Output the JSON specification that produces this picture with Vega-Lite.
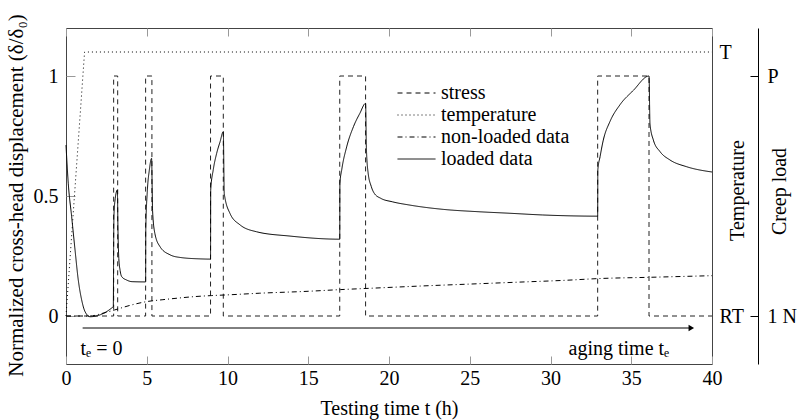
{
  "$schema": "https://vega.github.io/schema/vega-lite/v6.json",
  "width": 646,
  "height": 336,
  "autosize": "none",
  "padding": {"left": 66, "top": 28, "right": 86, "bottom": 56},
  "config": {
    "font": "Liberation Serif",
    "view": {"stroke": "#444", "strokeWidth": 1},
    "axis": {
      "labelFont": "Liberation Serif", "titleFont": "Liberation Serif",
      "labelFontSize": 20, "titleFontSize": 20, "titleFontWeight": "normal",
      "labelColor": "#000", "titleColor": "#000", "tickColor": "#999",
      "grid": false, "domain": false, "labelFlush": false, "labelOverlap": false
    },
    "legend": {"labelFont": "Liberation Serif", "labelFontSize": 20}
  },
  "datasets": {
    "lines": [
      {"s": "stress", "t": 0, "v": 0}, {"s": "stress", "t": 2.95, "v": 0}, {"s": "stress", "t": 2.95, "v": 1}, {"s": "stress", "t": 3.2, "v": 1}, {"s": "stress", "t": 3.2, "v": 0},
      {"s": "stress", "t": 4.93, "v": 0}, {"s": "stress", "t": 4.93, "v": 1}, {"s": "stress", "t": 5.32, "v": 1}, {"s": "stress", "t": 5.32, "v": 0},
      {"s": "stress", "t": 8.95, "v": 0}, {"s": "stress", "t": 8.95, "v": 1}, {"s": "stress", "t": 9.74, "v": 1}, {"s": "stress", "t": 9.74, "v": 0},
      {"s": "stress", "t": 16.95, "v": 0}, {"s": "stress", "t": 16.95, "v": 1}, {"s": "stress", "t": 18.55, "v": 1}, {"s": "stress", "t": 18.55, "v": 0},
      {"s": "stress", "t": 32.92, "v": 0}, {"s": "stress", "t": 32.92, "v": 1}, {"s": "stress", "t": 36.1, "v": 1}, {"s": "stress", "t": 36.1, "v": 0},
      {"s": "stress", "t": 40, "v": 0},
      {"s": "temperature", "t": 0, "v": 0}, {"s": "temperature", "t": 1.15, "v": 1.1}, {"s": "temperature", "t": 40, "v": 1.1},
      {"s": "non-loaded data", "t": 0, "v": 0}, {"s": "non-loaded data", "t": 1.5, "v": 0}, {"s": "non-loaded data", "t": 2.2, "v": 0.01},
      {"s": "non-loaded data", "t": 3, "v": 0.025}, {"s": "non-loaded data", "t": 4, "v": 0.045}, {"s": "non-loaded data", "t": 5, "v": 0.06},
      {"s": "non-loaded data", "t": 6, "v": 0.068}, {"s": "non-loaded data", "t": 7, "v": 0.075}, {"s": "non-loaded data", "t": 8, "v": 0.081},
      {"s": "non-loaded data", "t": 9, "v": 0.085}, {"s": "non-loaded data", "t": 10, "v": 0.088}, {"s": "non-loaded data", "t": 12, "v": 0.095},
      {"s": "non-loaded data", "t": 15, "v": 0.103}, {"s": "non-loaded data", "t": 17, "v": 0.11}, {"s": "non-loaded data", "t": 19, "v": 0.116},
      {"s": "non-loaded data", "t": 22, "v": 0.125}, {"s": "non-loaded data", "t": 25, "v": 0.133}, {"s": "non-loaded data", "t": 28, "v": 0.141},
      {"s": "non-loaded data", "t": 31, "v": 0.149}, {"s": "non-loaded data", "t": 33, "v": 0.156}, {"s": "non-loaded data", "t": 36, "v": 0.161},
      {"s": "non-loaded data", "t": 40, "v": 0.168},
      {"s": "loaded data", "t": 0, "v": 0.712}, {"s": "loaded data", "t": 0.14, "v": 0.553}, {"s": "loaded data", "t": 0.35, "v": 0.414},
      {"s": "loaded data", "t": 0.56, "v": 0.275}, {"s": "loaded data", "t": 0.76, "v": 0.15}, {"s": "loaded data", "t": 0.97, "v": 0.067},
      {"s": "loaded data", "t": 1.18, "v": 0.018}, {"s": "loaded data", "t": 1.49, "v": -0.003}, {"s": "loaded data", "t": 2.93, "v": 0.039},
      {"s": "loaded data", "t": 2.95, "v": 0.3}, {"s": "loaded data", "t": 2.97, "v": 0.42}, {"s": "loaded data", "t": 3.05, "v": 0.49},
      {"s": "loaded data", "t": 3.18, "v": 0.525}, {"s": "loaded data", "t": 3.22, "v": 0.35}, {"s": "loaded data", "t": 3.27, "v": 0.24},
      {"s": "loaded data", "t": 3.35, "v": 0.19}, {"s": "loaded data", "t": 3.45, "v": 0.164}, {"s": "loaded data", "t": 3.75, "v": 0.15},
      {"s": "loaded data", "t": 4.1, "v": 0.143}, {"s": "loaded data", "t": 4.93, "v": 0.142},
      {"s": "loaded data", "t": 4.94, "v": 0.36}, {"s": "loaded data", "t": 5.04, "v": 0.525}, {"s": "loaded data", "t": 5.16, "v": 0.608},
      {"s": "loaded data", "t": 5.3, "v": 0.657}, {"s": "loaded data", "t": 5.36, "v": 0.44}, {"s": "loaded data", "t": 5.5, "v": 0.345},
      {"s": "loaded data", "t": 5.82, "v": 0.289}, {"s": "loaded data", "t": 6.44, "v": 0.255}, {"s": "loaded data", "t": 7.06, "v": 0.244},
      {"s": "loaded data", "t": 8.3, "v": 0.238}, {"s": "loaded data", "t": 8.95, "v": 0.237},
      {"s": "loaded data", "t": 8.96, "v": 0.525}, {"s": "loaded data", "t": 9.12, "v": 0.61}, {"s": "loaded data", "t": 9.33, "v": 0.678},
      {"s": "loaded data", "t": 9.54, "v": 0.726}, {"s": "loaded data", "t": 9.74, "v": 0.768}, {"s": "loaded data", "t": 9.8, "v": 0.51},
      {"s": "loaded data", "t": 10.15, "v": 0.428}, {"s": "loaded data", "t": 10.77, "v": 0.38}, {"s": "loaded data", "t": 11.8, "v": 0.351},
      {"s": "loaded data", "t": 13.87, "v": 0.333}, {"s": "loaded data", "t": 16.95, "v": 0.32},
      {"s": "loaded data", "t": 16.96, "v": 0.553}, {"s": "loaded data", "t": 17.07, "v": 0.608}, {"s": "loaded data", "t": 17.38, "v": 0.705},
      {"s": "loaded data", "t": 17.8, "v": 0.789}, {"s": "loaded data", "t": 18.2, "v": 0.845}, {"s": "loaded data", "t": 18.55, "v": 0.886},
      {"s": "loaded data", "t": 18.6, "v": 0.7}, {"s": "loaded data", "t": 18.7, "v": 0.6}, {"s": "loaded data", "t": 18.9, "v": 0.54},
      {"s": "loaded data", "t": 19.1, "v": 0.51}, {"s": "loaded data", "t": 19.5, "v": 0.49}, {"s": "loaded data", "t": 20.2, "v": 0.476},
      {"s": "loaded data", "t": 21.3, "v": 0.462}, {"s": "loaded data", "t": 23.4, "v": 0.444}, {"s": "loaded data", "t": 25.4, "v": 0.435},
      {"s": "loaded data", "t": 27.5, "v": 0.428}, {"s": "loaded data", "t": 29.5, "v": 0.421}, {"s": "loaded data", "t": 32.92, "v": 0.416},
      {"s": "loaded data", "t": 32.93, "v": 0.608}, {"s": "loaded data", "t": 33.07, "v": 0.664}, {"s": "loaded data", "t": 33.27, "v": 0.733},
      {"s": "loaded data", "t": 33.68, "v": 0.81}, {"s": "loaded data", "t": 34.3, "v": 0.88}, {"s": "loaded data", "t": 35.13, "v": 0.94},
      {"s": "loaded data", "t": 36.1, "v": 1.0}, {"s": "loaded data", "t": 36.16, "v": 0.8}, {"s": "loaded data", "t": 36.37, "v": 0.733},
      {"s": "loaded data", "t": 36.78, "v": 0.685}, {"s": "loaded data", "t": 37.4, "v": 0.65}, {"s": "loaded data", "t": 38.43, "v": 0.622},
      {"s": "loaded data", "t": 40, "v": 0.6}
    ]
  },
  "layer": [
    {
      "data": {"name": "lines"},
      "transform": [{"filter": "datum.s == 'stress'"}],
      "mark": {"type": "line", "color": "#222", "strokeWidth": 1},
      "encoding": {
        "x": {"field": "t", "type": "quantitative", "scale": {"domain": [0, 40], "nice": false},
              "axis": {"orient": "top", "values": [0, 5, 10, 15, 20, 25, 30, 35, 40], "tickSize": -8, "labels": false, "title": null}},
        "y": {"field": "v", "type": "quantitative", "scale": {"domain": [-0.2, 1.2], "nice": false, "zero": false},
              "axis": {"orient": "right", "offset": 46, "values": [0, 1], "labelExpr": "datum.value == 0 ? '1 N' : 'P'",
                       "domain": true, "domainColor": "#000", "tickColor": "#000", "tickSize": -8, "labelPadding": 17,
                       "title": "Creep load", "titleAngle": 270, "titleX": 21, "titleY": 163, "titleBaseline": "middle", "titleAlign": "center"}},
        "strokeDash": {"field": "s", "type": "nominal",
                       "scale": {"domain": ["stress", "temperature", "non-loaded data", "loaded data"], "range": [[5, 4], [1, 3], [5, 3, 1, 3], [1, 0]]},
                       "legend": {"title": null, "orient": "none", "legendX": 331, "legendY": 55, "symbolType": "M-1,0H3", "symbolSize": 361,
                                  "symbolStrokeWidth": 1, "symbolStrokeColor": "#000", "labelFont": "Liberation Serif", "labelFontSize": 20,
                                  "labelColor": "#000", "labelOffset": 24, "rowPadding": 2}},
        "order": {"value": null}
      }
    },
    {
      "data": {"name": "lines"},
      "transform": [{"filter": "datum.s == 'temperature'"}],
      "mark": {"type": "line", "color": "black", "strokeWidth": 1},
      "encoding": {
        "x": {"field": "t", "type": "quantitative", "scale": {"domain": [0, 40], "nice": false}, "axis": null},
        "y": {"field": "v", "type": "quantitative", "scale": {"domain": [-0.2, 1.2], "nice": false, "zero": false},
              "axis": {"orient": "right", "values": [0, 1.1], "labelExpr": "datum.value == 0 ? 'RT' : 'T'", "ticks": false, "labelPadding": 7,
                       "title": "Temperature", "titleAngle": 270, "titleX": 25, "titleY": 162, "titleBaseline": "middle", "titleAlign": "center"}},
        "strokeDash": {"field": "s", "type": "nominal",
                       "scale": {"domain": ["stress", "temperature", "non-loaded data", "loaded data"], "range": [[5, 4], [1, 3], [5, 3, 1, 3], [1, 0]]}},
        "order": {"value": null}
      }
    },
    {
      "data": {"name": "lines"},
      "transform": [{"filter": "datum.s == 'non-loaded data' || datum.s == 'loaded data'"}],
      "mark": {"type": "line", "color": "black", "strokeWidth": 1, "interpolate": "monotone"},
      "encoding": {
        "x": {"field": "t", "type": "quantitative", "scale": {"domain": [0, 40], "nice": false},
              "axis": {"orient": "bottom", "values": [0, 5, 10, 15, 20, 25, 30, 35, 40], "tickSize": -8, "labelPadding": 12,
                       "title": "Testing time t (h)", "titleY": 44, "titleBaseline": "middle"}},
        "y": {"field": "v", "type": "quantitative", "scale": {"domain": [-0.2, 1.2], "nice": false, "zero": false},
              "axis": {"orient": "left", "values": [0, 0.5, 1], "format": "~g", "tickSize": -9, "labelPadding": 17,
                       "title": "Normalized cross-head displacement (δ/δ₀)", "titleFontSize": 21, "titleX": -50, "titleY": 167, "titleBaseline": "middle", "titleAlign": "center"}},
        "strokeDash": {"field": "s", "type": "nominal",
                       "scale": {"domain": ["stress", "temperature", "non-loaded data", "loaded data"], "range": [[5, 4], [1, 3], [5, 3, 1, 3], [1, 0]]}},
        "order": {"value": null}
      }
    },
    {
      "data": {"values": [{"t0": 1.03, "t1": 38.7, "v": -0.05}]},
      "mark": {"type": "rule", "color": "#000", "strokeWidth": 1},
      "encoding": {
        "x": {"field": "t0", "type": "quantitative", "scale": {"domain": [0, 40], "nice": false}, "axis": null},
        "x2": {"field": "t1"},
        "y": {"field": "v", "type": "quantitative", "scale": {"domain": [-0.2, 1.2], "nice": false, "zero": false}, "axis": null}
      }
    },
    {
      "data": {"values": [{"t": 38.72, "v": -0.05}]},
      "mark": {"type": "point", "shape": "triangle-right", "filled": true, "color": "#000", "size": 40, "opacity": 1},
      "encoding": {
        "x": {"field": "t", "type": "quantitative", "scale": {"domain": [0, 40], "nice": false}, "axis": null},
        "y": {"field": "v", "type": "quantitative", "scale": {"domain": [-0.2, 1.2], "nice": false, "zero": false}, "axis": null}
      }
    },
    {
      "data": {"values": [{"t": 0.9, "v": -0.138, "label": "tₑ = 0"}]},
      "mark": {"type": "text", "align": "left", "baseline": "middle", "font": "Liberation Serif", "fontSize": 20, "color": "#000"},
      "encoding": {
        "x": {"field": "t", "type": "quantitative", "scale": {"domain": [0, 40], "nice": false}, "axis": null},
        "y": {"field": "v", "type": "quantitative", "scale": {"domain": [-0.2, 1.2], "nice": false, "zero": false}, "axis": null},
        "text": {"field": "label"}
      }
    },
    {
      "data": {"values": [{"t": 37.35, "v": -0.138, "label": "aging time tₑ"}]},
      "mark": {"type": "text", "align": "right", "baseline": "middle", "font": "Liberation Serif", "fontSize": 20, "color": "#000"},
      "encoding": {
        "x": {"field": "t", "type": "quantitative", "scale": {"domain": [0, 40], "nice": false}, "axis": null},
        "y": {"field": "v", "type": "quantitative", "scale": {"domain": [-0.2, 1.2], "nice": false, "zero": false}, "axis": null},
        "text": {"field": "label"}
      }
    }
  ],
  "resolve": {"axis": {"x": "independent", "y": "independent"}}
}
